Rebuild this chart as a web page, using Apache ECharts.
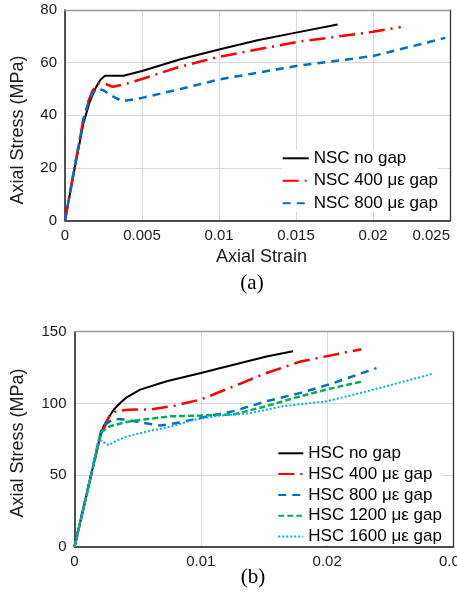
<!DOCTYPE html>
<html>
<head>
<meta charset="utf-8">
<script src="https://cdn.jsdelivr.net/npm/echarts@6/dist/echarts.min.js"></script>
<style>
html,body{margin:0;padding:0;background:#fff;}
#chart{width:457px;height:599px;}
</style>
</head>
<body>
<div id="chart"></div>
<script>
// ---- Panel (a): NSC ----
var nscNoGapStrain = [0, 0.0006, 0.0012, 0.0016, 0.002, 0.0023, 0.0026, 0.0033, 0.0038, 0.005, 0.0075, 0.01, 0.0125, 0.015, 0.0177];
var nscNoGapStress = [0, 19, 37, 45, 50.5, 53.5, 55, 55, 55, 56.8, 61.3, 65, 68.5, 71.4, 74.5];
var nsc400Strain = [0, 0.0006, 0.0012, 0.0015, 0.0018, 0.0022, 0.0026, 0.0031, 0.004, 0.005, 0.0075, 0.01, 0.015, 0.02, 0.0218];
var nsc400Stress = [0, 19.5, 38.5, 45, 49.5, 52.3, 52, 50.8, 52, 53.8, 58.5, 62.2, 67.8, 71.7, 73.5];
var nsc800Strain = [0, 0.0006, 0.0012, 0.0015, 0.0018, 0.0021, 0.0025, 0.003, 0.0037, 0.005, 0.0075, 0.01, 0.015, 0.02, 0.0247];
var nsc800Stress = [0, 19.5, 38.5, 44.5, 48.5, 50, 49.5, 47.5, 45.3, 46.6, 50, 53.6, 58.7, 62.5, 69.4];

// ---- Panel (b): HSC ----
var hscNoGapStrain = [0, 0.001, 0.002, 0.0023, 0.0027, 0.0031, 0.0037, 0.0041, 0.0052, 0.0073, 0.01, 0.0126, 0.0152, 0.0173];
var hscNoGapStress = [0, 38, 76, 84, 90, 95.5, 101, 104, 109.6, 115.4, 121.2, 126.9, 132.7, 136.3];
var hsc400Strain = [0, 0.001, 0.002, 0.0022, 0.0028, 0.0033, 0.0042, 0.006, 0.0078, 0.01, 0.0126, 0.0152, 0.0179, 0.0227];
var hsc400Stress = [0, 38, 76, 80, 92, 94.5, 95.5, 95.8, 98.1, 102.7, 111.9, 121.2, 129.2, 137.8];
var hsc800Strain = [0, 0.001, 0.002, 0.0022, 0.0031, 0.0041, 0.0055, 0.0068, 0.0084, 0.01, 0.0126, 0.0152, 0.0179, 0.0205, 0.0239];
var hsc800Stress = [0, 38, 77, 83.7, 89.3, 88.6, 86.3, 84.5, 86.8, 90, 94.6, 101.5, 107.3, 114.2, 124.6];
var hsc1200Strain = [0, 0.001, 0.002, 0.0022, 0.0028, 0.0041, 0.0055, 0.0076, 0.01, 0.0126, 0.0152, 0.0179, 0.0205, 0.0228];
var hsc1200Stress = [0, 38, 76, 80.5, 84, 87, 88.8, 91, 91.5, 92.3, 98.1, 105, 110.8, 115.4];
var hsc1600Strain = [0, 0.001, 0.0019, 0.0023, 0.0027, 0.0031, 0.0041, 0.0057, 0.0076, 0.0094, 0.0115, 0.0138, 0.0165, 0.02, 0.0232, 0.0283];
var hsc1600Stress = [0, 38, 75, 73, 70.8, 73, 76.8, 80.3, 83.7, 88.4, 91.5, 93, 98, 101.5, 108.5, 120.5];

var nscNames = ['NSC no gap', 'NSC 400 \u03bc\u03b5 gap', 'NSC 800 \u03bc\u03b5 gap'];
var hscNames = ['HSC no gap', 'HSC 400 \u03bc\u03b5 gap', 'HSC 800 \u03bc\u03b5 gap', 'HSC 1200 \u03bc\u03b5 gap', 'HSC 1600 \u03bc\u03b5 gap'];

function zip(xs, ys) { return xs.map(function (x, i) { return [x, ys[i]]; }); }

var FONT = "'Liberation Sans', Arial, sans-serif";
var TXT = '#1a1a1a';
var GRID = '#d9d9d9';

var sBlack = { color: '#000000', width: 2, type: 'solid' };
var sRed = { color: '#ff0000', width: 2.5, type: [16, 6, 2, 6] };
var sBlue = { color: '#0070c0', width: 2.5, type: [8, 6] };
var sGreen = { color: '#00b050', width: 2.5, type: [6, 3] };
var sCyan = { color: '#00b0f0', width: 2, type: [2, 2] };

function mkSeries(name, data, ls, gi) {
  return {
    type: 'line', name: name, data: data, xAxisIndex: gi, yAxisIndex: gi,
    showSymbol: false, symbol: 'none', smooth: false,
    lineStyle: ls, itemStyle: { color: ls.color }, color: ls.color,
    animation: false, z: 3
  };
}

function mainX(gi, max, interval, alignRight) {
  return {
    type: 'value', gridIndex: gi, min: 0, max: max, interval: interval,
    axisLine: { show: true, onZero: false, lineStyle: { color: '#1a1a1a', width: 1.5 } },
    axisTick: { show: false },
    splitLine: { show: true, lineStyle: { color: GRID, width: 1 } },
    axisLabel: {
      show: true, fontFamily: FONT, fontSize: 15, color: TXT, margin: 8,
      alignMaxLabel: alignRight ? 'right' : null,
      formatter: function (v) { return String(+v.toFixed(4)); }
    }
  };
}
function mainY(gi, max, interval) {
  return {
    type: 'value', gridIndex: gi, min: 0, max: max, interval: interval,
    axisLine: { show: true, onZero: false, lineStyle: { color: '#1a1a1a', width: 1.5 } },
    axisTick: { show: false },
    splitLine: { show: true, lineStyle: { color: GRID, width: 1 } },
    axisLabel: { show: true, fontFamily: FONT, fontSize: 15, color: TXT, margin: 8 }
  };
}
function borderX(gi, max) {
  return {
    type: 'value', gridIndex: gi, position: 'top', min: 0, max: max, z: 10,
    axisLine: { show: true, onZero: false, lineStyle: { color: '#9a9a9a', width: 1.3 } },
    axisTick: { show: false }, axisLabel: { show: false }, splitLine: { show: false }
  };
}
function borderY(gi, max) {
  return {
    type: 'value', gridIndex: gi, position: 'right', min: 0, max: max, z: 10,
    axisLine: { show: true, onZero: false, lineStyle: { color: '#333333', width: 1.3 } },
    axisTick: { show: false }, axisLabel: { show: false }, splitLine: { show: false }
  };
}

var legendText = { fontFamily: FONT, fontSize: 17, color: '#000', lineHeight: 17 };

var option = {
  backgroundColor: '#ffffff',
  animation: false,
  grid: [
    { left: 65, top: 10, width: 385, height: 210.5, containLabel: false, outerBoundsMode: 'none' },
    { left: 74.5, top: 331.7, width: 379, height: 215, containLabel: false, outerBoundsMode: 'none' }
  ],
  xAxis: [
    mainX(0, 0.025, 0.005, true),
    mainX(1, 0.03, 0.01, false),
    borderX(0, 0.025),
    borderX(1, 0.03)
  ],
  yAxis: [
    mainY(0, 80, 20),
    mainY(1, 150, 50),
    borderY(0, 80),
    borderY(1, 150)
  ],
  legend: [
    {
      orient: 'vertical', left: 281.7, top: 149.8, padding: 0, itemGap: 5.5,
      itemWidth: 26, itemHeight: 14, backgroundColor: '#ffffff',
      itemStyle: { opacity: 0 },
      data: nscNames, textStyle: legendText, selectedMode: false
    },
    {
      orient: 'vertical', left: 277.3, top: 444.8, padding: 0, itemGap: 3.8,
      itemWidth: 25, itemHeight: 14, backgroundColor: '#ffffff',
      itemStyle: { opacity: 0 },
      data: hscNames, textStyle: legendText, selectedMode: false
    }
  ],
  graphic: [
    { type: 'text', x: 18, y: 130, rotation: Math.PI / 2,
      style: { text: 'Axial Stress (MPa)', font: "18px 'Liberation Sans', Arial, sans-serif", fill: TXT, textAlign: 'center', textVerticalAlign: 'middle' } },
    { type: 'text', x: 261.5, y: 257,
      style: { text: 'Axial Strain', font: "18px 'Liberation Sans', Arial, sans-serif", fill: TXT, textAlign: 'center', textVerticalAlign: 'middle' } },
    { type: 'text', x: 252, y: 283,
      style: { text: '(a)', font: "21px 'Liberation Serif', 'Times New Roman', serif", fill: '#000', textAlign: 'center', textVerticalAlign: 'middle' } },
    { type: 'text', x: 18, y: 443, rotation: Math.PI / 2,
      style: { text: 'Axial Stress (MPa)', font: "18px 'Liberation Sans', Arial, sans-serif", fill: TXT, textAlign: 'center', textVerticalAlign: 'middle' } },
    { type: 'text', x: 253, y: 577,
      style: { text: '(b)', font: "21px 'Liberation Serif', 'Times New Roman', serif", fill: '#000', textAlign: 'center', textVerticalAlign: 'middle' } }
  ],
  series: [
    mkSeries(nscNames[0], zip(nscNoGapStrain, nscNoGapStress), sBlack, 0),
    mkSeries(nscNames[1], zip(nsc400Strain, nsc400Stress), sRed, 0),
    mkSeries(nscNames[2], zip(nsc800Strain, nsc800Stress), sBlue, 0),
    mkSeries(hscNames[0], zip(hscNoGapStrain, hscNoGapStress), sBlack, 1),
    mkSeries(hscNames[1], zip(hsc400Strain, hsc400Stress), sRed, 1),
    mkSeries(hscNames[2], zip(hsc800Strain, hsc800Stress), sBlue, 1),
    mkSeries(hscNames[3], zip(hsc1200Strain, hsc1200Stress), sGreen, 1),
    mkSeries(hscNames[4], zip(hsc1600Strain, hsc1600Stress), sCyan, 1)
  ]
};

var chart = echarts.init(document.getElementById('chart'), null, { renderer: 'canvas' });
chart.setOption(option);
</script>
</body>
</html>
